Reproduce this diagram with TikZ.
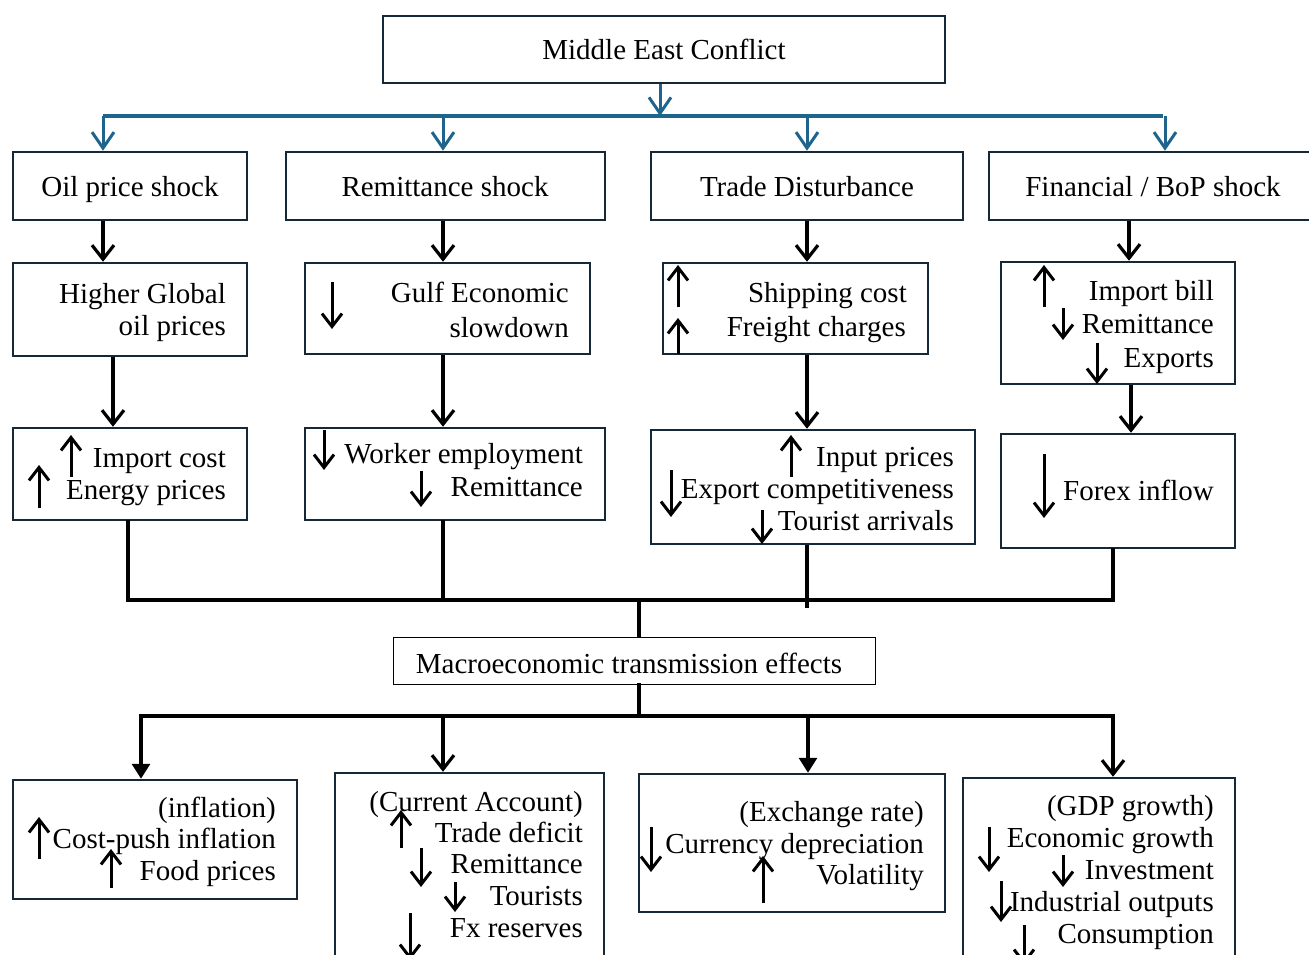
\documentclass[tikz,border=0pt]{standalone}
\usepackage{fontspec}
\setmainfont{Liberation Serif}
\usetikzlibrary{arrows.meta,fit}
\definecolor{boxc}{RGB}{20,40,55}
\definecolor{bluec}{RGB}{30,100,140}
\begin{document}
\begin{tikzpicture}[x=1pt,y=-1pt,
 box/.style={draw=boxc,line width=2.5pt,inner sep=0pt},
 thinbox/.style={draw=black,line width=1pt,inner sep=0pt},
 txt/.style={font=\fontsize{29}{32}\selectfont,inner sep=0pt},
 rt/.style={txt,anchor=base east},
 conn/.style={line width=3.2pt,-{Straight Barb[length=14pt,width=22pt]}},
 blk/.style={line width=3.5pt,line cap=rect},
 blueline/.style={draw=bluec,line width=3.5pt},
 barr/.style={draw=bluec,line width=3pt,-{Straight Barb[length=16pt,width=22pt]}},
 sym/.style={line width=3pt,-{Straight Barb[length=13pt,width=20pt]}},
 farr/.style={line width=3.2pt,-{Triangle[length=15pt,width=18pt]}}]
\useasboundingbox (0,0) rectangle (1309,955);

% ---------- boxes ----------
\node[box,fit={(383,16) (945,83)}] (mec) {};
\node[box,fit={(13,152) (247,220)}] (oil) {};
\node[box,fit={(286,152) (605,220)}] (rem) {};
\node[box,fit={(651,152) (963,220)}] (trd) {};
\node[box,fit={(989,152) (1318,220)}] (fin) {};

\node[box,fit={(13,263) (247,356)}] (hg) {};
\node[box,fit={(305,263) (590,354)}] (gulf) {};
\node[box,fit={(663,263) (928,354)}] (ship) {};
\node[box,fit={(1001,262) (1235,384)}] (imp) {};

\node[box,fit={(13,428) (247,520)}] (ic) {};
\node[box,fit={(305,428) (605,520)}] (wk) {};
\node[box,fit={(651,430) (975,544)}] (inp) {};
\node[box,fit={(1001,434) (1235,548)}] (fx) {};

\node[thinbox,fit={(393,637) (875,684)}] (mac) {};

\node[box,fit={(13,780) (297,899)}] (inf) {};
\node[box,fit={(335,773) (604,990)}] (ca) {};
\node[box,fit={(639,774) (945,912)}] (er) {};
\node[box,fit={(963,778) (1235,990)}] (gdp) {};

% ---------- texts ----------
\node[txt,anchor=base] (mect) at (664,60) {Middle East Conflict};
\node[txt,anchor=base] (oilt) at (130,196) {Oil price shock};
\node[txt,anchor=base] (remt) at (445,196) {Remittance shock};
\node[txt,anchor=base] (trdt) at (807,196) {Trade Disturbance};
\node[txt,anchor=base] (fint) at (1153,196) {Financial / BoP shock};

\node[rt] (hg1) at (226,303) {Higher Global};
\node[rt] (hg2) at (226,335) {oil prices};
\node[rt] (gu1) at (569,302) {Gulf Economic};
\node[rt] (gu2) at (569,337) {slowdown};
\node[rt] (sh1) at (907,302) {Shipping cost};
\node[rt] (sh2) at (906,336) {Freight charges};
\node[rt] (im1) at (1214,300) {Import bill};
\node[rt] (im2) at (1214,333) {Remittance};
\node[rt] (im3) at (1214,367) {Exports};

\node[rt] (ic1) at (226,467) {Import cost};
\node[rt] (ic2) at (226,499) {Energy prices};
\node[rt] (wk1) at (583,463) {Worker employment};
\node[rt] (wk2) at (583,496) {Remittance};
\node[rt] (in1) at (954,466) {Input prices};
\node[rt] (in2) at (954,498) {Export competitiveness};
\node[rt] (in3) at (954,530) {Tourist arrivals};
\node[rt] (fx1) at (1214,500) {Forex inflow};

\node[txt,anchor=base] (mact) at (629,673) {Macroeconomic transmission effects};

\node[rt] (if1) at (276,817) {(inflation)};
\node[rt] (if2) at (276,848) {Cost-push inflation};
\node[rt] (if3) at (276,880) {Food prices};
\node[rt] (ca1) at (583,811) {(Current Account)};
\node[rt] (ca2) at (583,842) {Trade deficit};
\node[rt] (ca3) at (583,873) {Remittance};
\node[rt] (ca4) at (583,905) {Tourists};
\node[rt] (ca5) at (583,937) {Fx reserves};
\node[rt] (er1) at (924,821) {(Exchange rate)};
\node[rt] (er2) at (924,853) {Currency depreciation};
\node[rt] (er3) at (924,884) {Volatility};
\node[rt] (gd1) at (1214,815) {(GDP growth)};
\node[rt] (gd2) at (1214,847) {Economic growth};
\node[rt] (gd3) at (1214,879) {Investment};
\node[rt] (gd4) at (1214,911) {Industrial outputs};
\node[rt] (gd5) at (1214,943) {Consumption};

% ---------- blue connectors ----------
\coordinate (bT) at (660,116);
\coordinate (bL) at (103,116);
\coordinate (bR) at (1163,116);
\coordinate (b2) at (443,116);
\coordinate (b3) at (807,116);
\coordinate (b4) at (1165,116);
\draw[blueline] (bL) -- (bR);
\draw[barr] (mec.south -| bT) -- (bT);
\draw[barr] (bL) -- (bL |- oil.north);
\draw[barr] (b2) -- (b2 |- rem.north);
\draw[barr] (b3) -- (b3 |- trd.north);
\draw[barr] (b4) -- (b4 |- fin.north);

% ---------- black connectors ----------
\coordinate (k1) at (103,0);
\coordinate (k2) at (443,0);
\coordinate (k3) at (807,0);
\coordinate (k4) at (1129,0);
\draw[conn] (oil.south -| k1) -- (hg.north -| k1);
\draw[conn] (rem.south -| k2) -- (gulf.north -| k2);
\draw[conn] (trd.south -| k3) -- (ship.north -| k3);
\draw[conn] (fin.south -| k4) -- (imp.north -| k4);

\coordinate (m1) at (113,0);
\coordinate (m2) at (443,0);
\coordinate (m3) at (807,0);
\coordinate (m4) at (1131,0);
\draw[conn] (hg.south -| m1) -- (ic.north -| m1);
\draw[conn] (gulf.south -| m2) -- (wk.north -| m2);
\draw[conn] (ship.south -| m3) -- (inp.north -| m3);
\draw[conn] (imp.south -| m4) -- (fx.north -| m4);

\coordinate (n1) at (128,600);
\coordinate (n2) at (443,600);
\coordinate (n3) at (807,608);
\coordinate (n4) at (1113,600);
\coordinate (nc) at (639,600);
\draw[blk] (ic.south -| n1) -- (n1) -- (n4) -- (fx.south -| n4);
\draw[blk] (wk.south -| n2) -- (n2);
\draw[line width=3.5pt] (inp.south -| n3) -- (n3);
\draw[blk] (nc) -- (nc |- mac.north);

\coordinate (pc) at (639,716);
\coordinate (p1) at (141,716);
\coordinate (p2) at (443,716);
\coordinate (p3) at (808,716);
\coordinate (p4) at (1113,716);
\draw[blk] (mac.south -| pc) -- (pc);
\draw[blk] (p1) -- (p4);
\draw[farr] (p1) -- (p1 |- inf.north);
\draw[conn] (p2) -- (p2 |- ca.north);
\draw[farr] (p3) -- (p3 |- er.north);
\draw[conn] (p4) -- (p4 |- gdp.north);

% ---------- up / down symbols ----------
\draw[sym] (332,282) -- (332,329);
\draw[sym] (678,307) -- (678,265);
\draw[sym] (678,354) -- (678,318);
\draw[sym] (1044,307) -- (1044,265);
\draw[sym] (1063,308) -- (1063,340);
\draw[sym] (1097,343) -- (1097,384);

\draw[sym] (71,477) -- (71,435);
\draw[sym] (39,508) -- (39,465);
\draw[sym] (324,430) -- (324,470);
\draw[sym] (421,471) -- (421,507);
\draw[sym] (791,477) -- (791,435);
\draw[sym] (671,470) -- (671,517);
\draw[sym] (762,510) -- (762,544);
\draw[sym] (1044,454) -- (1044,518);

\draw[sym] (39,859) -- (39,817);
\draw[sym] (111,888) -- (111,849);
\draw[sym] (401,848) -- (401,810);
\draw[sym] (421,848) -- (421,887);
\draw[sym] (455,882) -- (455,912);
\draw[sym] (410,913) -- (410,960);
\draw[sym] (651,827) -- (651,872);
\draw[sym] (763,903) -- (763,856);
\draw[sym] (989,827) -- (989,872);
\draw[sym] (1063,855) -- (1063,887);
\draw[sym] (1001,881) -- (1001,922);
\draw[sym] (1024,925) -- (1024,965);
\end{tikzpicture}
\end{document}
